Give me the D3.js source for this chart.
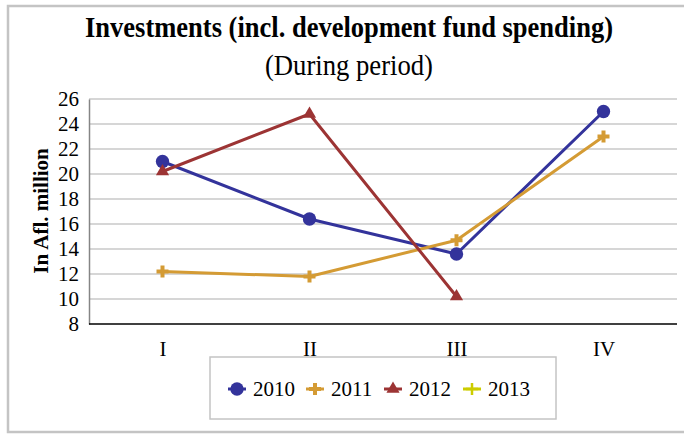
<!DOCTYPE html>
<html>
<head>
<meta charset="utf-8">
<script src="https://cdn.jsdelivr.net/npm/d3@7/dist/d3.min.js"></script>
<style>
  html, body { margin: 0; padding: 0; background: #fff; }
  svg { display: block; }
  text { font-family: "Liberation Serif", "Times New Roman", serif; fill: #000; }
</style>
</head>
<body>
<svg id="chart" width="684" height="434"></svg>
<script>
// Quarterly investments per year (Afl. million)
const categories = ["I", "II", "III", "IV"];
const years = ["2010", "2011", "2012", "2013"];
const values2010 = [21.0, 16.4, 13.6, 25.0];
const values2011 = [12.2, 11.8, 14.7, 23.0];
const values2012 = [20.2, 24.8, 10.2, null];
const values2013 = [null, null, null, null];
const yTicks = [8, 10, 12, 14, 16, 18, 20, 22, 24, 26];

const seriesList = [
  { name: years[0], values: values2010, color: "#33339b", marker: "circle" },
  { name: years[1], values: values2011, color: "#d49b34", marker: "plus" },
  { name: years[2], values: values2012, color: "#9c3434", marker: "triangle" },
  { name: years[3], values: values2013, color: "#cccc00", marker: "thinplus" }
];

const svg = d3.select("#chart");

// outer chart frame
svg.append("rect")
  .attr("x", 8).attr("y", 6)
  .attr("width", 690).attr("height", 426)
  .attr("fill", "none")
  .attr("stroke", "#c4c4c4")
  .attr("stroke-width", 2.5);

const plot = { left: 89, right: 677, top: 99, bottom: 324 };

const x = d3.scalePoint()
  .domain(categories)
  .range([plot.left, plot.right])
  .padding(0.5);

const y = d3.scaleLinear()
  .domain([8, 26])
  .range([plot.bottom, plot.top]);

// titles (slightly condensed serif)
svg.append("text")
  .attr("x", 349).attr("y", 37)
  .attr("text-anchor", "middle")
  .attr("font-size", 29).attr("font-weight", "bold")
  .attr("textLength", 528).attr("lengthAdjust", "spacingAndGlyphs")
  .text("Investments (incl. development fund spending)");
svg.append("text")
  .attr("x", 349).attr("y", 75)
  .attr("text-anchor", "middle")
  .attr("font-size", 30)
  .attr("textLength", 168).attr("lengthAdjust", "spacingAndGlyphs")
  .text("(During period)");

// horizontal gridlines
svg.append("g")
  .selectAll("line")
  .data(yTicks.filter(t => t > 8))
  .join("line")
  .attr("x1", plot.left).attr("x2", plot.right)
  .attr("y1", d => y(d)).attr("y2", d => y(d))
  .attr("stroke", "#c8c8c8")
  .attr("stroke-width", 1.5);

// y axis
const yAxis = svg.append("g")
  .attr("transform", `translate(${plot.left},0)`)
  .call(d3.axisLeft(y).tickValues(yTicks).tickSize(0).tickPadding(10));
yAxis.select(".domain").attr("stroke", "#858585").attr("stroke-width", 1.5);
yAxis.selectAll("text")
  .attr("font-size", 21)
  .attr("fill", "#000");

// x axis
const xAxis = svg.append("g")
  .attr("transform", `translate(0,${plot.bottom})`)
  .call(d3.axisBottom(x).tickSize(0).tickPadding(17));
xAxis.select(".domain")
  .attr("d", `M${plot.left},0H${plot.right}`)
  .attr("stroke", "#000").attr("stroke-width", 1.5);
xAxis.selectAll("text")
  .attr("font-size", 21)
  .attr("fill", "#000");

// y axis title
svg.append("text")
  .attr("transform", "translate(48,211) rotate(-90)")
  .attr("text-anchor", "middle")
  .attr("font-size", 21).attr("font-weight", "bold")
  .text("In Afl. million");

// marker drawing
function markerPath(kind) {
  if (kind === "circle") return d3.symbol(d3.symbolCircle, 140)();
  if (kind === "triangle") return d3.symbol(d3.symbolTriangle, 75)();
  if (kind === "plus") return d3.symbol(d3.symbolCross, 80)();
  return "M-6,0H6M0,-6V6";
}
function drawMarker(g, kind, color) {
  const p = g.append("path").attr("d", markerPath(kind));
  if (kind === "thinplus") {
    p.attr("fill", "none").attr("stroke", color).attr("stroke-width", 2.5);
  } else {
    p.attr("fill", color);
  }
  return p;
}

const line = d3.line()
  .defined(d => d.v != null)
  .x(d => x(d.c))
  .y(d => y(d.v));

seriesList.forEach(s => {
  const pts = categories.map((c, i) => ({ c, v: s.values[i] }));
  svg.append("path")
    .datum(pts)
    .attr("d", line)
    .attr("fill", "none")
    .attr("stroke", s.color)
    .attr("stroke-width", 3)
    .attr("stroke-linejoin", "round");
  pts.filter(d => d.v != null).forEach(d => {
    const g = svg.append("g").attr("transform", `translate(${x(d.c)},${y(d.v)})`);
    drawMarker(g, s.marker, s.color);
  });
});

// legend
const legend = svg.append("g");
legend.append("rect")
  .attr("x", 210).attr("y", 357)
  .attr("width", 346).attr("height", 62)
  .attr("fill", "#fff")
  .attr("stroke", "#c4c4c4")
  .attr("stroke-width", 1.5);

const legendX = [237, 315, 393, 472];
seriesList.forEach((s, i) => {
  const g = legend.append("g").attr("transform", `translate(${legendX[i]},389)`);
  g.append("line")
    .attr("x1", -9).attr("x2", 9)
    .attr("stroke", s.color).attr("stroke-width", 3);
  drawMarker(g, s.marker, s.color);
  g.append("text")
    .attr("x", 16).attr("y", 7)
    .attr("font-size", 21)
    .text(s.name);
});
</script>
</body>
</html>
